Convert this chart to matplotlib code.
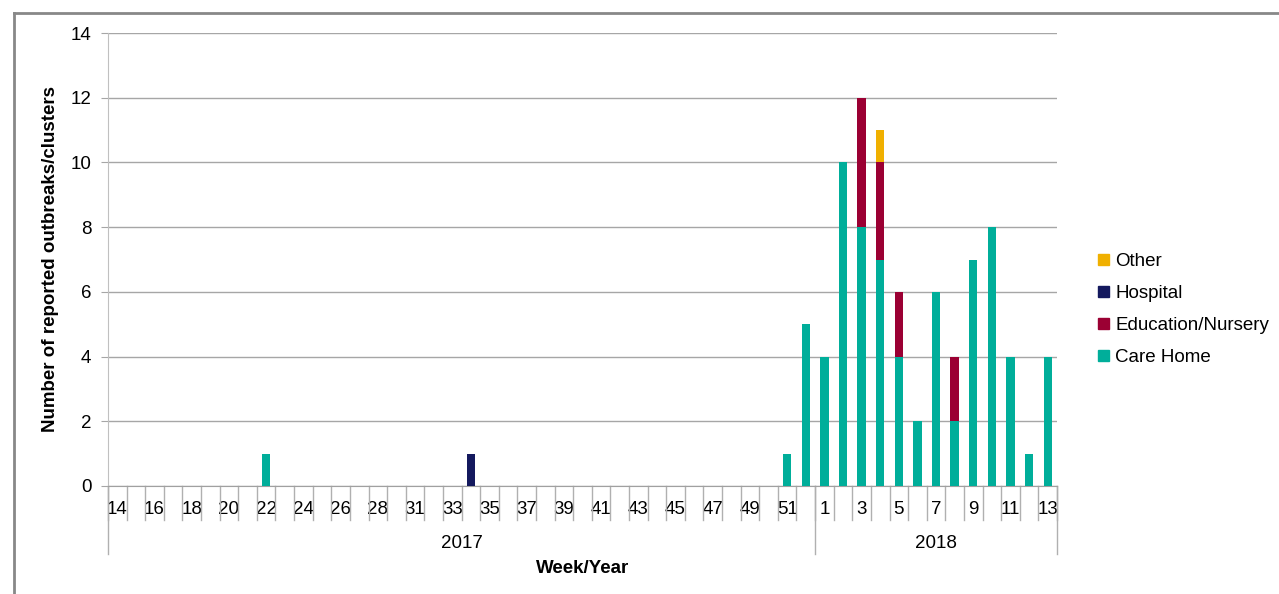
import numpy as np
import matplotlib
matplotlib.use('Agg')
import matplotlib.pyplot as plt
from matplotlib.patches import Patch
from matplotlib.lines import Line2D
import matplotlib.transforms as mtransforms

plt.rcParams['font.family'] = ['Liberation Sans', 'DejaVu Sans']

# weeks on the axis (2017 has no week 29 in the source)
weeks_2017 = list(range(14, 29)) + list(range(30, 53))
weeks_2018 = list(range(1, 14))
years = ['2017', '2018']

care_2017 = [0, 0, 0, 0, 0, 0, 0, 0, 1, 0, 0, 0, 0, 0, 0, 0, 0, 0, 0,
             0, 0, 0, 0, 0, 0, 0, 0, 0, 0, 0, 0, 0, 0, 0, 0, 0, 1, 5]
hosp_2017 = [0, 0, 0, 0, 0, 0, 0, 0, 0, 0, 0, 0, 0, 0, 0, 0, 0, 0, 0,
             1, 0, 0, 0, 0, 0, 0, 0, 0, 0, 0, 0, 0, 0, 0, 0, 0, 0, 0]
edu_2017 = [0] * 38
other_2017 = [0] * 38

care_2018 = [4, 10, 8, 7, 4, 2, 6, 2, 7, 8, 4, 1, 4]
edu_2018 = [0, 0, 4, 3, 2, 0, 0, 2, 0, 0, 0, 0, 0]
hosp_2018 = [0] * 13
other_2018 = [0, 0, 0, 1, 0, 0, 0, 0, 0, 0, 0, 0, 0]

weeks = weeks_2017 + weeks_2018
care = np.array(care_2017 + care_2018)
edu = np.array(edu_2017 + edu_2018)
hosp = np.array(hosp_2017 + hosp_2018)
other = np.array(other_2017 + other_2018)

c_care = '#00AE9A'
c_edu = '#9B0033'
c_hosp = '#14195E'
c_other = '#F0B000'
fs = 13.5

fig = plt.figure(figsize=(12.79, 5.94), dpi=100)
ax = fig.add_axes([108 / 1279, 108 / 594, 949 / 1279, 453 / 594])

x = np.arange(len(weeks))
w = 0.45
ax.bar(x, care, w, color=c_care, zorder=3)
ax.bar(x, edu, w, bottom=care, color=c_edu, zorder=3)
ax.bar(x, hosp, w, bottom=care + edu, color=c_hosp, zorder=3)
ax.bar(x, other, w, bottom=care + edu + hosp, color=c_other, zorder=3)

ax.set_xlim(-0.5, len(weeks) - 0.5)
ax.set_ylim(0, 14)
ax.set_yticks(range(0, 15, 2))
ax.yaxis.grid(True, color='#a6a6a6', lw=1, zorder=0)
ax.tick_params(axis='y', length=5, color='#a6a6a6', labelsize=fs, pad=7)

labels = [str(wk) if i % 2 == 0 else '' for i, wk in enumerate(weeks)]
ax.set_xticks(x)
ax.set_xticklabels(labels, fontsize=fs)
ax.tick_params(axis='x', length=0, pad=11)

for s in ['top', 'right']:
    ax.spines[s].set_visible(False)
ax.spines['left'].set_color('#c0c0c0')
ax.spines['bottom'].set_color('#a0a0a0')

# category separators and year groups below the axis
trans = mtransforms.blended_transform_factory(ax.transData, ax.transAxes)
for b in np.arange(len(weeks) + 1) - 0.5:
    ax.plot([b, b], [0, -0.075], transform=trans, color='#b0b0b0', lw=1,
            clip_on=False)
n17 = len(weeks_2017)
for b in [-0.5, n17 - 0.5, len(weeks) - 0.5]:
    ax.plot([b, b], [0, -0.15], transform=trans, color='#b0b0b0', lw=1,
            clip_on=False)
ax.text((n17 - 1) / 2, -0.126, years[0], transform=trans, ha='center',
        va='center', fontsize=fs)
ax.text(n17 + (len(weeks_2018) - 1) / 2, -0.126, years[1], transform=trans,
        ha='center', va='center', fontsize=fs)

ax.text(0.5, -0.183, 'Week/Year', transform=ax.transAxes, ha='center',
        va='center', fontsize=fs, fontweight='bold')
ax.set_ylabel('Number of reported outbreaks/clusters', fontsize=fs,
              fontweight='bold', labelpad=8)

handles = [Patch(color=c_other), Patch(color=c_hosp), Patch(color=c_edu),
           Patch(color=c_care)]
names = ['Other', 'Hospital', 'Education/Nursery', 'Care Home']
fig.legend(handles, names, loc='upper left',
           bbox_to_anchor=(1089 / 1279, 1 - 244 / 594), frameon=False,
           fontsize=fs, handlelength=0.55, handleheight=0.55,
           handletextpad=0.35, labelspacing=0.8, borderpad=0)

# outer frame
fig.add_artist(Line2D([14 / 1279, 14 / 1279], [0, 1 - 13 / 594],
                      color='#888888', lw=2))
fig.add_artist(Line2D([14 / 1279, 1], [1 - 13 / 594, 1 - 13 / 594],
                      color='#888888', lw=2))

fig.savefig('out.png', dpi=100)
